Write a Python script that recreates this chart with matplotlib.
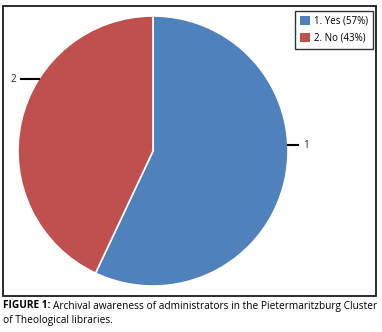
import numpy as np
import matplotlib
matplotlib.use("Agg")
import matplotlib.pyplot as plt
from matplotlib.patches import Rectangle

labels = ['1', '2']
legend_labels = ['1. Yes (57%)', '2. No (43%)']
values = [57, 43]
colors = ['#4F81BD', '#C0504D']
# angle (deg, from +x) where each leader line sits
label_angles = [2.5, 148]

W, H = 382, 332
fig = plt.figure(figsize=(W / 100, H / 100), dpi=100)

# outer frame
fig.patches.append(Rectangle((3 / W, 1 - 296 / H), 373 / W, 290 / H, transform=fig.transFigure,
                             fill=False, edgecolor='#1a1a1a', linewidth=1.3))

# pie axes: center (153, 151) px, radius 135 px
cx, cy, r = 153, 151, 135
ax = fig.add_axes([(cx - r) / W, 1 - (cy + r) / H, 2 * r / W, 2 * r / H])
wedges, _ = ax.pie(values, colors=colors, startangle=90, counterclock=False,
                   radius=1, wedgeprops=dict(edgecolor='white', linewidth=1.2))
ax.set_xlim(-1, 1)
ax.set_ylim(-1, 1)
ax.set_aspect('equal')
ax.axis('off')

for lab, ang in zip(labels, label_angles):
    a = np.deg2rad(ang)
    x0, y0 = np.cos(a), np.sin(a)
    sgn = 1 if x0 > 0 else -1
    x1 = x0 + sgn * (0.075 if sgn > 0 else 0.13)
    ax.plot([x0, x1], [y0, y0], color='black', linewidth=1.5, clip_on=False)
    ax.text(x1 + sgn * 0.035, y0, lab, ha='left' if sgn > 0 else 'right', va='center',
            fontsize=7.3, color='#222244', family='Open Sans')

leg = fig.legend(wedges, legend_labels, loc='upper right', bbox_to_anchor=(373 / W, 1 - 11 / H),
                 frameon=True, fancybox=False, handlelength=1.05, handleheight=1.05,
                 handletextpad=0.4, borderpad=0.5, labelspacing=0.6, borderaxespad=0,
                 prop={'family': 'Open Sans', 'size': 7.0})
leg.get_frame().set_edgecolor('black')
leg.get_frame().set_linewidth(1.0)
for h in leg.legend_handles:
    h.set_edgecolor('none')

# caption
renderer = fig.canvas.get_renderer()
fs = 7.3
t1 = fig.text(3 / W, 1 - 306 / H, 'FIGURE 1:', fontsize=fs, fontweight='bold',
              family='Open Sans', va='center', ha='left')
bb = t1.get_window_extent(renderer)
fig.text(bb.x1 / W + 2.5 / W, 1 - 306 / H,
         'Archival awareness of administrators in the Pietermaritzburg Cluster',
         fontsize=fs, family='Open Sans', va='center', ha='left')
fig.text(3 / W, 1 - 320 / H, 'of Theological libraries.', fontsize=fs,
         family='Open Sans', va='center', ha='left')

fig.savefig('out.png', dpi=100)
